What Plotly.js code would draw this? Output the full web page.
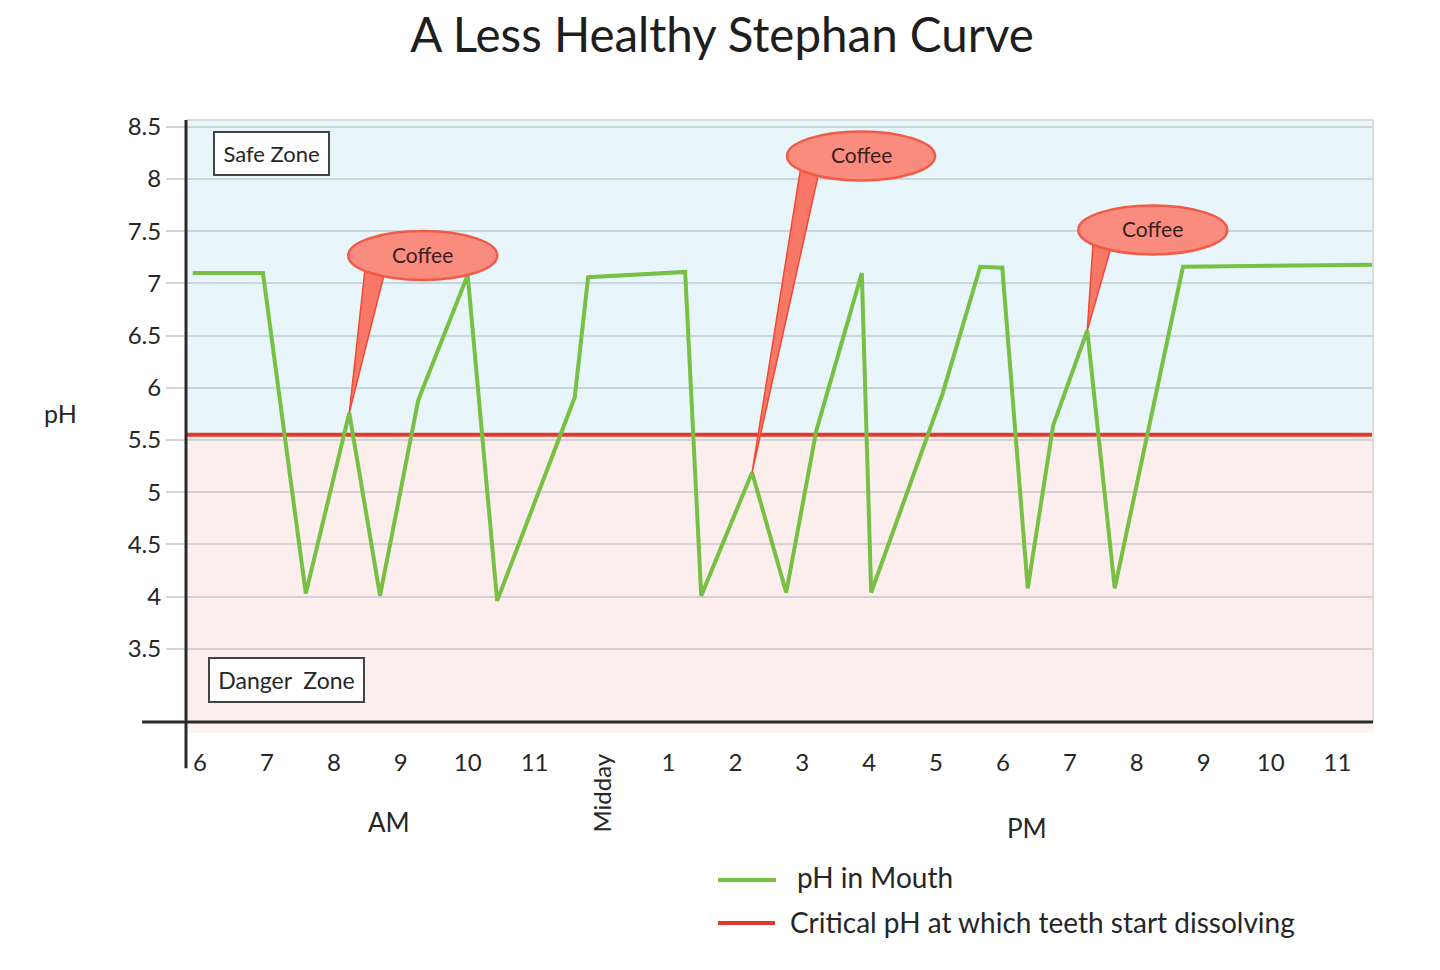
<!DOCTYPE html>
<html>
<head>
<meta charset="utf-8">
<script src="https://cdn.plot.ly/plotly-3.0.1.min.js"></script>
<style>
  html, body { margin: 0; padding: 0; background: #ffffff; }
  #chart { width: 1440px; height: 970px; }
</style>
</head>
<body>
<div id="chart"></div>
<script>
// ---------------- data ----------------
const chartTitle = 'A Less Healthy Stephan Curve';
// time of day in hours (6 = 6 AM, 12 = midday, 18 = 6 PM ...)
const hours = [5.89, 6.94, 7.58, 8.23, 8.69, 9.26, 10.0, 10.44, 11.60, 11.80,
               13.25, 13.49, 14.25, 14.76, 15.21, 15.89, 16.03, 17.09, 17.66, 17.99,
               18.37, 18.75, 19.26, 19.67, 20.69, 23.53];
const phMouth = [7.10, 7.10, 4.03, 5.76, 4.01, 5.88, 7.08, 3.96, 5.91, 7.06,
                 7.11, 4.01, 5.19, 4.04, 5.59, 7.10, 4.04, 5.93, 7.16, 7.15,
                 4.08, 5.64, 6.55, 4.08, 7.16, 7.18];
const criticalPH = 5.55;
const coffeeIdx = [3, 12, 22];          // points where coffee is drunk
const coffeeLabel = 'Coffee';
const seriesNames = ['pH in Mouth', 'Critical pH at which teeth start dissolving'];
const tickHours = [6, 7, 8, 9, 10, 11, 12, 13, 14, 15, 16, 17, 18, 19, 20, 21, 22, 23];
const tickLabels = ['6', '7', '8', '9', '10', '11', 'Midday', '1', '2', '3', '4', '5',
                    '6', '7', '8', '9', '10', '11'];
const yTicks = [3.5, 4, 4.5, 5, 5.5, 6, 6.5, 7, 7.5, 8, 8.5];
const yTickLabels = ['3.5', '4', '4.5', '5', '5.5', '6', '6.5', '7', '7.5', '8', '8.5'];
const periodLabels = ['AM', 'PM'];
const zoneLabels = ['Safe Zone', 'Danger  Zone'];
const yTitle = 'pH';

// ---------------- styles ----------------
const FONT = 'Lato, "Open Sans", "DejaVu Sans", sans-serif';
const GREEN = '#77c043';
const RED = '#e2392c';
const BUBBLE_FILL = '#f98c7e';
const BUBBLE_LINE = '#f15a45';
const TEXT = '#262626';
const xRange = [5.79, 23.53];
const yRange = [2.8, 8.565];

// bubble geometry in pixels relative to the coffee point (y positive = up)
const bubbles = [
  { ell: [-1, 133, 148, 182], tail: [[16, 146], [36, 143]] },
  { ell: [35, 292, 183, 341], tail: [[49, 307], [67, 301]] },
  { ell: [-9, 76, 140, 125], tail: [[6, 91], [24, 84]] }
];

const traces = [
  {
    x: [xRange[0], xRange[1]], y: [criticalPH, criticalPH],
    mode: 'lines', name: seriesNames[1],
    line: { color: RED, width: 4 }, showlegend: false, hoverinfo: 'skip'
  },
  {
    x: hours, y: phMouth, mode: 'lines', name: seriesNames[0],
    line: { color: GREEN, width: 4 }, showlegend: false
  }
];

const shapes = [
  // safe (blue) and danger (pink) zones
  { type: 'rect', xref: 'paper', yref: 'y', x0: 0, x1: 1, y0: criticalPH, y1: yRange[1],
    fillcolor: '#e8f5fb', line: { width: 0 }, layer: 'below' },
  { type: 'rect', xref: 'paper', yref: 'y', x0: 0, x1: 1, y0: yRange[0], y1: criticalPH,
    fillcolor: '#fdeeee', line: { width: 0 }, layer: 'below' },
  { type: 'rect', xref: 'paper', yref: 'paper', x0: 0, x1: 1, y0: -0.018, y1: 0,
    fillcolor: '#fdf2f2', line: { width: 0 }, layer: 'below' },
  // light frame top/right
  { type: 'line', xref: 'paper', yref: 'paper', x0: 0, x1: 1, y0: 1, y1: 1,
    line: { color: '#dcdcdc', width: 2 } },
  { type: 'line', xref: 'paper', yref: 'paper', x0: 1, x1: 1, y0: 0, y1: 1,
    line: { color: '#dcdcdc', width: 2 } },
  // axes crossing lines
  { type: 'line', xref: 'paper', yref: 'paper', x0: -0.037, x1: 1, y0: 0, y1: 0,
    line: { color: '#2a2a2a', width: 3 } },
  { type: 'line', xref: 'paper', yref: 'paper', x0: 0, x1: 0, y0: -0.077, y1: 1,
    line: { color: '#2a2a2a', width: 3 } },
  // manual legend samples
  { type: 'line', xref: 'paper', yref: 'paper', x0: 0.4482, x1: 0.497, y0: -0.2625, y1: -0.2625,
    line: { color: GREEN, width: 4 } },
  { type: 'line', xref: 'paper', yref: 'paper', x0: 0.4482, x1: 0.4962, y0: -0.3339, y1: -0.3339,
    line: { color: RED, width: 4 } }
];

const annotations = [];

coffeeIdx.forEach((idx, k) => {
  const b = bubbles[k];
  const base = { xref: 'x', yref: 'y', xsizemode: 'pixel', ysizemode: 'pixel',
                 xanchor: hours[idx], yanchor: phMouth[idx], layer: 'above' };
  shapes.push(Object.assign({}, base, {
    type: 'path',
    path: `M0,0 L${b.tail[0][0]},${b.tail[0][1]} L${b.tail[1][0]},${b.tail[1][1]} Z`,
    fillcolor: '#f87766', line: { color: '#f04a34', width: 1.5 }
  }));
  shapes.push(Object.assign({}, base, {
    type: 'circle', x0: b.ell[0], y0: b.ell[1], x1: b.ell[2], y1: b.ell[3],
    fillcolor: BUBBLE_FILL, line: { color: BUBBLE_LINE, width: 2.5 }
  }));
  annotations.push({
    xref: 'x', yref: 'y', x: hours[idx], y: phMouth[idx], showarrow: false,
    xanchor: 'center', yanchor: 'middle',
    xshift: (b.ell[0] + b.ell[2]) / 2, yshift: (b.ell[1] + b.ell[3]) / 2 + 1,
    text: coffeeLabel, font: { family: FONT, size: 21, color: '#3a1f1f' }
  });
});

function label(x, y, text, size, extra) {
  return Object.assign({ xref: 'paper', yref: 'paper', x: x, y: y, text: text,
    showarrow: false, xanchor: 'center', yanchor: 'middle',
    font: { family: FONT, size: size, color: TEXT } }, extra || {});
}

annotations.push(
  label(0.072, 0.944, zoneLabels[0], 22,
    { bgcolor: '#ffffff', bordercolor: '#444', borderwidth: 2, borderpad: 0, width: 113, height: 41 }),
  label(0.0847, 0.0698, zoneLabels[1], 23,
    { bgcolor: '#ffffff', bordercolor: '#444', borderwidth: 2, borderpad: 0, width: 153, height: 42 }),
  label(-0.106, 0.513, yTitle, 25),
  label(0.171, -0.166, periodLabels[0], 26),
  label(0.7085, -0.176, periodLabels[1], 26),
  label(tickHours[6], -0.118, tickLabels[6], 24, { xref: 'x', textangle: -90 }),
  label(0.513, -0.2575, seriesNames[0], 28, { xanchor: 'left' }),
  label(0.5072, -0.3322, seriesNames[1], 28, { xanchor: 'left' })
);

const layout = {
  width: 1440, height: 970,
  paper_bgcolor: '#ffffff', plot_bgcolor: '#ffffff',
  margin: { l: 186, r: 67, t: 120, b: 248 },
  title: { text: chartTitle, font: { family: FONT, size: 47.5, color: '#1e1e1e' },
           xref: 'container', x: 0.5014, xanchor: 'center',
           yref: 'container', y: 0.964, yanchor: 'middle' },
  showlegend: false,
  xaxis: {
    range: xRange, tickmode: 'array', tickvals: tickHours,
    ticktext: tickLabels.map((t, i) => i === 6 ? '' : t),
    ticks: 'outside', ticklen: 19, tickcolor: 'rgba(0,0,0,0)',
    tickfont: { family: FONT, size: 24, color: TEXT },
    showgrid: false, showline: false, zeroline: false, fixedrange: true
  },
  yaxis: {
    range: yRange, tickmode: 'array', tickvals: yTicks, ticktext: yTickLabels,
    ticks: 'outside', ticklen: 19, tickwidth: 2, tickcolor: '#d4d4d4',
    tickfont: { family: FONT, size: 24, color: TEXT },
    showgrid: true, gridcolor: 'rgba(150,160,170,0.38)', gridwidth: 2,
    showline: false, zeroline: false, fixedrange: true
  },
  shapes: shapes,
  annotations: annotations
};

Plotly.newPlot('chart', traces, layout, { displayModeBar: false, staticPlot: true });
</script>
</body>
</html>
